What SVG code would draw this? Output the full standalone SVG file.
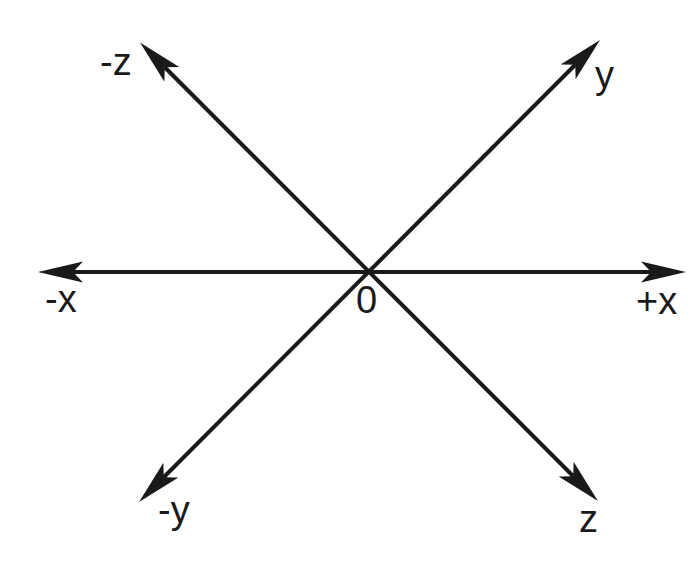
<svg xmlns="http://www.w3.org/2000/svg" width="693" height="571" viewBox="0 0 693 571">
<style>
.ax{stroke:#1a1a1a;stroke-width:4;fill:none;marker-start:url(#ah);marker-end:url(#ah)}
.lb{font-family:"Liberation Sans",Arial,sans-serif;font-size:38px;fill:#1a1a1a}
</style>
<defs>
<marker id="ah" viewBox="0 -11 46 22" markerWidth="46" markerHeight="22" refX="10" refY="0" markerUnits="userSpaceOnUse" orient="auto-start-reverse">
<path d="M0,-10.5 L45,0 L0,10.5 L10,0 Z" fill="#1a1a1a"/>
</marker>
</defs>
<rect width="693" height="571" fill="#fff"/>
<g id="connectors">
<path class="ax" d="M73,272 L651,272"/>
<path class="ax" d="M164.75,67.25 L573.25,476.25"/>
<path class="ax" d="M575.25,64.75 L163.75,477.25"/>
</g>
<g id="label-minus-z"><text class="lb" x="100" y="75">-z</text></g>
<g id="label-y"><text class="lb" x="595" y="88">y</text></g>
<g id="label-minus-x"><text class="lb" x="45" y="312">-x</text></g>
<g id="label-plus-x"><text class="lb" x="636" y="314">+x</text></g>
<g id="label-zero"><text class="lb" x="356" y="313">0</text></g>
<g id="label-minus-y"><text class="lb" x="158" y="523">-y</text></g>
<g id="label-z"><text class="lb" x="579" y="532">z</text></g>
</svg>
